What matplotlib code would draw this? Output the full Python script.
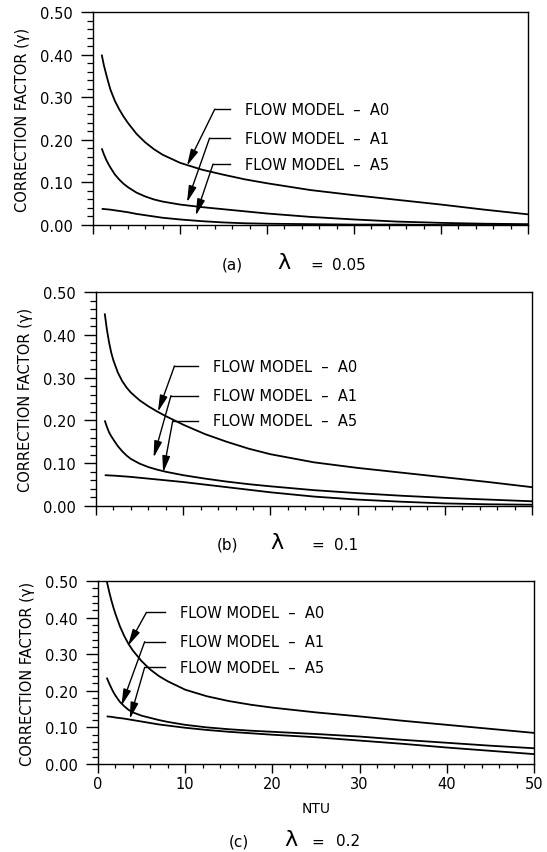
import numpy as np
import matplotlib.pyplot as plt
from matplotlib.ticker import MultipleLocator, FormatStrFormatter

plt.rcParams['font.family'] = ['DejaVu Sans']

# NTU values
ntu = [1, 1.25, 1.5, 1.75, 2, 2.5, 3, 3.5, 4, 5, 6, 7, 8, 10, 12.5, 15, 17.5, 20, 25, 30, 35, 40, 45, 50]

# lambda = 0.05
a_A0 = [0.400, 0.375, 0.355, 0.336, 0.318, 0.292, 0.272, 0.255, 0.240, 0.214, 0.194, 0.178, 0.165, 0.146,
        0.130, 0.118, 0.107, 0.098, 0.082, 0.070, 0.059, 0.048, 0.036, 0.025]
a_A1 = [0.180, 0.166, 0.154, 0.144, 0.135, 0.119, 0.107, 0.097, 0.089, 0.076, 0.067, 0.060, 0.055, 0.048,
        0.042, 0.037, 0.032, 0.027, 0.019, 0.013, 0.008, 0.005, 0.003, 0.002]
a_A5 = [0.038, 0.0375, 0.037, 0.0365, 0.036, 0.0345, 0.033, 0.0315, 0.030, 0.026, 0.023, 0.020, 0.017, 0.013,
        0.009, 0.006, 0.004, 0.003, 0.002, 0.001, 0.001, 0.000, 0.000, 0.000]

# lambda = 0.1
b_A0 = [0.450, 0.412, 0.382, 0.358, 0.340, 0.312, 0.292, 0.277, 0.265, 0.247, 0.233, 0.221, 0.210, 0.190,
        0.168, 0.150, 0.134, 0.121, 0.102, 0.089, 0.078, 0.067, 0.056, 0.044]
b_A1 = [0.200, 0.185, 0.172, 0.163, 0.155, 0.140, 0.128, 0.118, 0.110, 0.099, 0.091, 0.085, 0.080, 0.072,
        0.064, 0.057, 0.051, 0.046, 0.037, 0.030, 0.024, 0.019, 0.015, 0.011]
b_A5 = [0.072, 0.0718, 0.0715, 0.0712, 0.071, 0.0703, 0.0695, 0.0688, 0.068, 0.066, 0.064, 0.062, 0.060, 0.056,
        0.050, 0.044, 0.038, 0.032, 0.022, 0.015, 0.010, 0.006, 0.004, 0.003]

# lambda = 0.2
c_A0 = [0.500, 0.474, 0.450, 0.429, 0.410, 0.377, 0.350, 0.328, 0.310, 0.281, 0.258, 0.240, 0.226, 0.203,
        0.185, 0.172, 0.162, 0.154, 0.141, 0.130, 0.118, 0.107, 0.096, 0.085]
c_A1 = [0.236, 0.222, 0.209, 0.197, 0.187, 0.170, 0.158, 0.148, 0.141, 0.132, 0.126, 0.120, 0.115, 0.107,
        0.100, 0.095, 0.091, 0.088, 0.082, 0.075, 0.066, 0.058, 0.050, 0.043]
c_A5 = [0.130, 0.1295, 0.129, 0.128, 0.127, 0.1255, 0.124, 0.122, 0.120, 0.116, 0.112, 0.108, 0.105, 0.099,
        0.093, 0.088, 0.084, 0.080, 0.073, 0.064, 0.055, 0.045, 0.036, 0.027]

models = ['A0', 'A1', 'A5']
panel_tags = ['(a)', '(b)', '(c)']
lambdas = ['0.05', '0.1', '0.2']
x_ticks = [0, 10, 20, 30, 40, 50]

fig = plt.figure(figsize=(5.47, 8.53), dpi=100)
W, H = 547.0, 853.0

# axes boxes in pixels: left, top, right, bottom
boxes = [(93, 13, 528, 226), (96, 293, 532, 507), (98, 582, 534, 765)]
series = [(a_A0, a_A1, a_A5), (b_A0, b_A1, b_A5), (c_A0, c_A1, c_A5)]

# leader layout per panel: text x, text ys, leader starts, leader end x, arrow tips
leaders = [
    (17.5, [0.272, 0.204, 0.143], [14.0, 13.4, 13.8], 15.7, [(10.8, 0.139), (10.8, 0.053), (11.8, 0.022)]),
    (13.4, [0.327, 0.258, 0.199], [9.0, 8.6, 8.8], 11.7, [(7.1, 0.220), (6.6, 0.113), (7.7, 0.078)]),
    (9.4, [0.414, 0.334, 0.264], [5.55, 5.35, 5.35], 7.65, [(3.44, 0.323), (2.68, 0.159), (3.64, 0.123)]),
]

# caption positions in pixels: tag x, lambda x, "=" x, value left x, y
captions = [(232, 284, 317, 332, 265), (227, 277, 318, 334, 545), (239, 291, 318, 336, 842)]

for i, (l, t, r, b) in enumerate(boxes):
    ax = fig.add_axes([l / W, 1 - b / H, (r - l) / W, (b - t) / H])
    for ys in series[i]:
        ax.plot(ntu, ys, color='black', lw=1.3, solid_capstyle='butt', solid_joinstyle='round')
    ax.set_xlim(0, 50)
    ax.set_ylim(0, 0.5)
    ax.xaxis.set_major_locator(MultipleLocator(10))
    ax.xaxis.set_minor_locator(MultipleLocator(2))
    ax.yaxis.set_major_locator(MultipleLocator(0.1))
    ax.yaxis.set_minor_locator(MultipleLocator(0.02))
    ax.yaxis.set_major_formatter(FormatStrFormatter('%.2f'))
    ax.tick_params(axis='y', which='major', direction='out', length=8.5, width=1, labelsize=10.5, pad=6)
    ax.tick_params(axis='y', which='minor', direction='out', length=4, width=0.9)
    ax.tick_params(axis='x', which='major', direction='out', length=6.5, width=1, labelsize=10.5, pad=2)
    ax.tick_params(axis='x', which='minor', direction='out', length=3, width=0.9)
    if i < 2:
        ax.set_xticklabels([])
    else:
        ax.set_xticks(x_ticks)
        ax.set_xlabel('NTU', fontsize=10, labelpad=7)
    for s in ax.spines.values():
        s.set_linewidth(1.0)
    ax.set_ylabel('CORRECTION FACTOR (γ)', fontsize=10.5)
    ax.yaxis.set_label_coords(-0.145, 0.5)

    tx, tys, x0s, x1, tips = leaders[i]
    for m, ty, x0, tip in zip(models, tys, x0s, tips):
        ax.plot([x0, x1], [ty, ty], color='black', lw=1.0)
        ax.annotate('', xy=tip, xytext=(x0, ty),
                    arrowprops=dict(arrowstyle='-|>,head_length=0.55,head_width=0.13',
                                    color='black', lw=1.0, shrinkA=0, shrinkB=0,
                                    mutation_scale=18))
        ax.text(tx, ty, 'FLOW MODEL  –  ' + m, fontsize=10.5, va='center', ha='left')

    px_tag, px_lam, px_eq, px_val, py = captions[i]
    fig.text(px_tag / W, 1 - py / H, panel_tags[i], fontsize=11, ha='center', va='center')
    fig.text(px_lam / W, 1 - (py - 2) / H, 'λ', fontsize=16, ha='center', va='center')
    fig.text(px_eq / W, 1 - py / H, '=', fontsize=11, ha='center', va='center')
    fig.text(px_val / W, 1 - py / H, lambdas[i], fontsize=11, ha='left', va='center')

fig.savefig('out.png', dpi=100)
